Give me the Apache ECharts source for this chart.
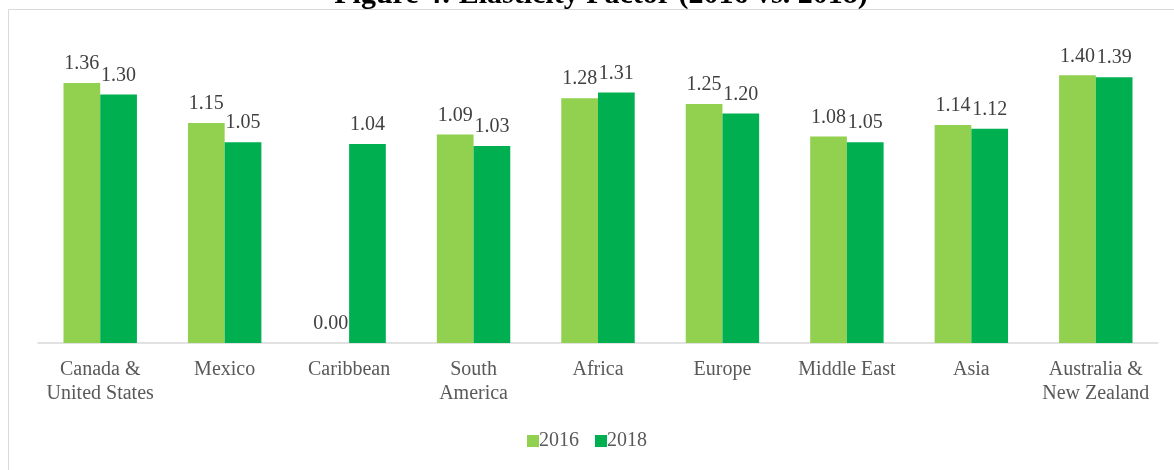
<!DOCTYPE html>
<html><head><meta charset="utf-8">
<script src="https://cdn.jsdelivr.net/npm/echarts@6/dist/echarts.min.js"></script>
<style>html,body{margin:0;padding:0;background:#fff}#c{width:1174px;height:470px}</style>
</head><body><div id="c"></div>
<script>
const categories = ["Canada &\nUnited States","Mexico","Caribbean","South\nAmerica","Africa","Europe","Middle East","Asia","Australia &\nNew Zealand"];
const values2016 = [1.36,1.15,0.00,1.09,1.28,1.25,1.08,1.14,1.40];
const values2018 = [1.30,1.05,1.04,1.03,1.31,1.20,1.05,1.12,1.39];
const seriesNames = ["2016","2018"];
const titleText = "Figure 4: Elasticity Factor (2016 vs. 2018)";

const chart = echarts.init(document.getElementById('c'));
const font = "'Liberation Serif', 'Times New Roman', serif";
const lbl = {show:true, position:'top', distance:9, fontFamily:font, fontSize:20, color:'#404040', formatter:p=>p.value.toFixed(2)};
chart.setOption({
  animation:false,
  title:{text:titleText, left:596, textAlign:'center', top:-25, textStyle:{fontFamily:font, fontSize:30, fontWeight:'bold', color:'#000'}},
  graphic:[{type:'rect', shape:{x:8.5,y:9.5,width:1200,height:500}, style:{fill:'none', stroke:'#d9d9d9', lineWidth:1}, z:-1}],
  legend:{bottom:14, left:'center', itemWidth:12, itemHeight:12, itemGap:16, icon:'rect',
    textStyle:{fontFamily:font, fontSize:20, color:'#595959', padding:[0,0,0,-5]}, data:seriesNames},
  grid:{left:38, right:16, top:37, bottom:127},
  xAxis:{type:'category', data:categories, axisTick:{show:false},
    axisLine:{lineStyle:{color:'#d9d9d9', width:1.5}},
    axisLabel:{interval:0, margin:15, fontFamily:font, fontSize:20, color:'#595959', lineHeight:24}},
  yAxis:{type:'value', min:0, max:1.6, show:false, splitLine:{show:false}},
  series:[
    {name:seriesNames[0], type:'bar', data:values2016, itemStyle:{color:'#92D050'}, barGap:'0%', barCategoryGap:'41%', label:lbl},
    {name:seriesNames[1], type:'bar', data:values2018, itemStyle:{color:'#00B050'}, barGap:'0%', barCategoryGap:'41%', label:lbl}
  ]
});
</script></body></html>
